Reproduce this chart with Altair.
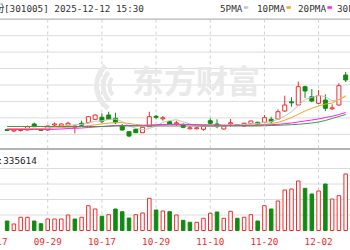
import altair as alt
import pandas as pd

# ---------------- data ----------------
dates = ["09-17", "09-18", "09-19", "09-22", "09-23", "09-24", "09-25", "09-26", "09-29", "09-30",
         "10-09", "10-10", "10-13", "10-14", "10-15", "10-16", "10-17", "10-20", "10-21", "10-22",
         "10-23", "10-24", "10-27", "10-28", "10-29", "10-30", "10-31", "11-03", "11-04", "11-05",
         "11-06", "11-07", "11-10", "11-11", "11-12", "11-13", "11-14", "11-17", "11-18", "11-19",
         "11-20", "11-21", "11-24", "11-25", "11-26", "11-27", "11-28", "12-01", "12-02", "12-03",
         "12-04", "12-05", "12-08"]
tick_labels = ["09-17", "09-29", "10-17", "10-29", "11-10", "11-20", "12-02"]

open_ = [36.47, 36.02, 36.17, 36.32, 38.15, 36.41, 36.32, 37.84, 37.54, 37.75,
         37.14, 38.36, 38.54, 39.57, 40.18, 40.88, 39.88, 37.54, 35.81, 36.53,
         35.50, 37.33, 40.49, 39.73, 38.84, 38.21, 37.84, 36.69, 36.69, 36.53,
         39.15, 38.15, 36.63, 38.21, 37.99, 37.54, 38.24, 38.66, 38.66, 39.57,
         39.67, 42.10, 44.89, 43.92, 49.48, 46.44, 44.44, 45.44, 42.77, 43.92,
         53.04]
high = [36.78, 36.63, 36.78, 37.69, 38.60, 36.63, 37.69, 38.60, 38.30, 38.84,
        37.69, 39.15, 40.58, 41.03, 41.40, 41.88, 41.58, 38.15, 36.02, 36.78,
        37.23, 41.88, 40.88, 40.58, 39.06, 39.15, 38.36, 37.54, 37.33, 37.69,
        39.88, 39.57, 37.69, 39.67, 38.15, 38.54, 39.15, 38.84, 40.88, 40.36,
        42.61, 46.75, 46.26, 51.06, 49.79, 48.78, 48.48, 47.17, 44.13, 50.52,
        53.95]
low = [36.02, 35.71, 35.87, 36.17, 37.23, 36.02, 36.02, 37.54, 37.39, 37.54,
       35.32, 37.54, 38.45, 39.45, 38.36, 39.36, 38.15, 36.17, 34.10, 35.41,
       35.41, 37.23, 39.57, 39.15, 37.99, 37.54, 36.84, 36.53, 36.53, 36.11,
       38.15, 36.84, 36.47, 37.33, 37.54, 37.39, 38.15, 37.93, 38.54, 38.36,
       39.51, 41.79, 43.40, 43.77, 46.05, 44.74, 44.22, 42.10, 42.40, 43.77,
       50.91]
close = [36.17, 36.32, 36.47, 37.33, 37.33, 36.23, 37.54, 38.15, 38.15, 38.36,
         37.54, 37.75, 40.36, 40.88, 38.97, 39.57, 38.54, 36.32, 34.50, 35.50,
         37.14, 40.36, 40.18, 40.03, 38.15, 38.51, 37.14, 36.99, 36.99, 37.54,
         38.36, 37.33, 37.54, 38.51, 37.69, 38.36, 39.06, 38.05, 40.06, 38.84,
         41.88, 43.92, 44.59, 49.48, 48.18, 45.14, 46.75, 42.92, 43.07, 49.79,
         51.52]

ma5 = [36.70, 36.63, 36.55, 36.60, 36.72, 36.74, 36.98, 37.32, 37.48, 37.69,
       37.95, 37.99, 38.43, 38.98, 39.10, 39.51, 39.66, 38.86, 37.58, 36.89,
       36.40, 36.76, 37.54, 38.64, 39.17, 39.45, 38.80, 38.16, 37.56, 37.43,
       37.40, 37.44, 37.55, 37.86, 37.89, 37.89, 38.23, 38.33, 38.64, 38.87,
       39.58, 40.55, 41.86, 43.74, 45.61, 46.26, 46.83, 46.49, 45.21, 45.53,
       46.81]
ma10 = [36.78, 36.78, 36.78, 36.78, 36.80, 36.80, 36.85, 36.95, 37.05, 37.15,
        37.25, 37.40, 37.60, 37.90, 38.20, 38.40, 38.60, 38.55, 38.30, 38.00,
        37.75, 37.65, 37.70, 37.85, 37.95, 38.00, 38.00, 38.00, 37.95, 37.95,
        37.90, 37.80, 37.75, 37.75, 37.75, 37.75, 37.85, 37.90, 38.05, 38.25,
        38.65, 39.30, 40.10, 41.10, 42.10, 42.90, 43.65, 44.20, 44.50, 45.60,
        46.50]
ma20 = [36.47, 36.47, 36.47, 36.47, 36.47, 36.47, 36.50, 36.53, 36.63, 36.78,
        36.84, 36.93, 37.08, 37.23, 37.39, 37.54, 37.65, 37.69, 37.69, 37.69,
        37.75, 37.84, 37.93, 37.99, 38.05, 38.05, 38.05, 37.99, 37.93, 37.84,
        37.84, 37.84, 37.80, 37.75, 37.72, 37.70, 37.70, 37.75, 37.84, 37.93,
        38.05, 38.24, 38.45, 38.75, 39.06, 39.36, 39.67, 40.12, 40.49, 41.03,
        41.64]
ma30 = [37.39, 37.39, 37.39, 37.39, 37.39, 37.39, 37.39, 37.39, 37.39, 37.39,
        37.39, 37.39, 37.39, 37.39, 37.39, 37.45, 37.54, 37.54, 37.54, 37.54,
        37.54, 37.54, 37.54, 37.54, 37.54, 37.54, 37.54, 37.54, 37.54, 37.54,
        37.54, 37.54, 37.54, 37.54, 37.54, 37.54, 37.54, 37.54, 37.60, 37.69,
        37.75, 37.84, 37.93, 38.05, 38.24, 38.45, 38.75, 39.21, 39.82, 40.43,
        41.03]

vol = [30600, 21000, 42600, 42600, 30600, 21900, 37100, 37100, 37100, 50000,
       37100, 42600, 80000, 69400, 45800, 51000, 69400, 60600, 40300, 51000,
       56500, 103900, 66100, 62900, 60600, 50000, 32900, 26500, 26500, 39400,
       55500, 59700, 39400, 61900, 39400, 42600, 51000, 30600, 80000, 69400,
       95200, 130600, 133900, 159700, 136100, 117700, 127400, 150000, 101600, 112300,
       182300]
vol_dir = ["down", "up", "up", "up", "down", "down", "up", "up", "up", "up",
           "down", "up", "up", "up", "down", "up", "down", "down", "down", "up",
           "up", "up", "down", "up", "down", "up", "down", "down", "up", "up",
           "up", "down", "up", "up", "down", "up", "up", "down", "up", "down",
           "up", "up", "up", "up", "down", "down", "up", "down", "up", "up",
           "up"]

price_grid = [35, 40, 45, 50, 55, 60, 65]
price_top = [70]
vol_grid = [50000, 100000, 150000, 200000]

header_name = "超捷股份"
header_text = "[301005] 2025-12-12 15:30"
vol_text = "VOL:335614"
legend_names = ["5PMA", "10PMA", "20PMA", "30PMA"]
watermark = "东方财富"

# ---------------- styles ----------------
RED = "#f42a2a"
GREEN = "#128a12"
MA_COLORS = ["#c4c4c4", "#f5a623", "#ff1cff", "#3d9a4a"]
MONO = "DejaVu Sans Mono"
WM = "#e9e9e9"

n = len(open_)
df = pd.DataFrame({
    "i": list(range(2, 2 + n)),
    "date": dates[2:2 + n],
    "open": open_, "high": high, "low": low, "close": close,
    "vol": vol, "vdir": vol_dir,
    "ma5": ma5, "ma10": ma10, "ma20": ma20, "ma30": ma30,
})
df["dir"] = ["up" if c >= o else "down" for o, c in zip(open_, close)]

X = alt.X("i:Q", scale=alt.Scale(domain=[1.687, 51.9], nice=False, zero=False), axis=None)


def PY(field):
    return alt.Y(f"{field}:Q",
                 scale=alt.Scale(domain=[30, 70], range=[150.8, 19.2], nice=False, zero=False),
                 axis=None)


VY = alt.Y("vol:Q", scale=alt.Scale(domain=[0, 200000], range=[230.5, 168.5], nice=False), axis=None)

dirscale_stroke = alt.Scale(domain=["up", "down"], range=[RED, GREEN])
dirscale_fill = alt.Scale(domain=["up", "down"], range=["#ffffff", GREEN])

one = pd.DataFrame({"a": [0]})
layers = []

# grid
layers.append(alt.Chart(pd.DataFrame({"p": price_grid})).mark_rule(color="#dcdcdc", strokeWidth=1)
              .encode(y=PY("p")))
layers.append(alt.Chart(pd.DataFrame({"p": price_top})).mark_rule(color="#b4b4b4", strokeWidth=1.2)
              .encode(y=PY("p")))
layers.append(alt.Chart(pd.DataFrame({"vol": vol_grid})).mark_rule(color="#dcdcdc", strokeWidth=1)
              .encode(y=VY))
lab_df = pd.DataFrame({"i": [dates.index(d) for d in tick_labels], "d": tick_labels})
layers.append(alt.Chart(lab_df).mark_rule(color="#cfcfcf", strokeWidth=1, strokeDash=[3, 3])
              .encode(x=X, y=alt.value(19.5), y2=alt.value(231)))
layers.append(alt.Chart(one).mark_rule(color="#b4b4b4", strokeWidth=2).encode(y=alt.value(149)))

# watermark (logo swirl + name)
for r1, r2, t1, t2 in [(30, 25, 3.75, 5.55), (23, 18.5, 3.9, 5.45), (16.5, 12.5, 4.05, 5.3)]:
    layers.append(alt.Chart(one).mark_arc(radius=r1, radius2=r2, theta=t1, theta2=t2, color=WM)
                  .encode(x=alt.value(124), y=alt.value(86)))
layers.append(alt.Chart(pd.DataFrame({"t": [watermark]}))
              .mark_text(font="Noto Sans CJK SC", fontSize=32, fontWeight="bold", color=WM,
                         align="center", baseline="middle")
              .encode(text="t:N", x=alt.value(196), y=alt.value(83)))

# volume
layers.append(alt.Chart(df).mark_bar(size=3.5, strokeWidth=1)
              .encode(x=X, y=VY,
                      fill=alt.Fill("vdir:N", scale=dirscale_fill, legend=None),
                      stroke=alt.Stroke("vdir:N", scale=dirscale_stroke, legend=None)))

# candles
layers.append(alt.Chart(df).mark_rule(strokeWidth=1)
              .encode(x=X, y=PY("low"), y2="high:Q",
                      color=alt.Color("dir:N", scale=dirscale_stroke, legend=None)))
layers.append(alt.Chart(df).mark_bar(size=4, strokeWidth=1)
              .encode(x=X, y=PY("open"), y2="close:Q",
                      fill=alt.Fill("dir:N", scale=dirscale_fill, legend=None),
                      stroke=alt.Stroke("dir:N", scale=dirscale_stroke, legend=None)))

# moving averages
for col, c in zip(["ma5", "ma10", "ma20", "ma30"], MA_COLORS):
    layers.append(alt.Chart(df).mark_line(color=c, strokeWidth=1).encode(x=X, y=PY(col)))

# texts
layers.append(alt.Chart(pd.DataFrame({"t": [header_name]}))
              .mark_text(font="Noto Sans CJK SC", fontSize=10, color="#333333", align="right",
                         baseline="alphabetic")
              .encode(text="t:N", x=alt.value(4.5), y=alt.value(11.5)))
layers.append(alt.Chart(pd.DataFrame({"t": [header_text]}))
              .mark_text(font=MONO, fontSize=9.3, color="#333333", align="left", baseline="alphabetic")
              .encode(text="t:N", x=alt.value(4), y=alt.value(11.5)))
leg_x = [220, 257, 298, 337]
for name, c, lx in zip(legend_names, MA_COLORS, leg_x):
    layers.append(alt.Chart(pd.DataFrame({"t": [name]}))
                  .mark_text(font=MONO, fontSize=9.3, color="#333333", align="left", baseline="alphabetic")
                  .encode(text="t:N", x=alt.value(lx), y=alt.value(11.5)))
    w = len(name) * 5.58
    layers.append(alt.Chart(one).mark_rule(color=c, strokeWidth=2.5)
                  .encode(x=alt.value(lx + w + 1.5), x2=alt.value(lx + w + 6), y=alt.value(7.5)))
layers.append(alt.Chart(pd.DataFrame({"t": [vol_text]}))
              .mark_text(font=MONO, fontSize=9.3, color="#222222", align="right", baseline="alphabetic")
              .encode(text="t:N", x=alt.value(36.8), y=alt.value(163.5)))
layers.append(alt.Chart(lab_df)
              .mark_text(font=MONO, fontSize=9.3, color=RED, align="center", baseline="alphabetic")
              .encode(text="d:N", x=X, y=alt.value(244.5)))

chart = (alt.layer(*layers)
         .resolve_scale(y="independent", fill="independent", stroke="independent", color="independent")
         .properties(width=350, height=250, padding=0, autosize=alt.AutoSizeParams(type="none"))
         .configure_view(stroke=None))

chart.save("out.html", embed_options={"renderer": "svg", "actions": False})
